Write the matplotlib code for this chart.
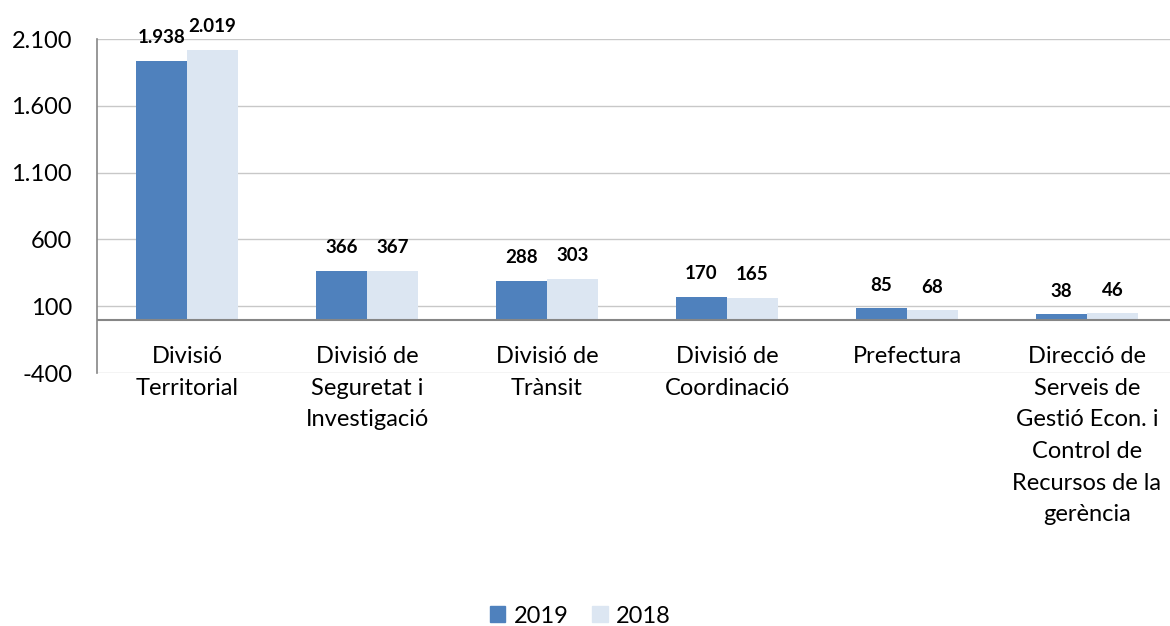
import numpy as np
import matplotlib.pyplot as plt
from matplotlib.patches import Patch

plt.rcParams['font.family'] = ['Lato', 'DejaVu Sans']

categories = ['Divisió\nTerritorial',
              'Divisió de\nSeguretat i\nInvestigació',
              'Divisió de\nTrànsit',
              'Divisió de\nCoordinació',
              'Prefectura',
              'Direcció de\nServeis de\nGestió Econ. i\nControl de\nRecursos de la\ngerència']
vals_2019 = [1938, 366, 288, 170, 85, 38]
vals_2018 = [2019, 367, 303, 165, 68, 46]
series_names = ['2019', '2018']
yticks = [-400, 100, 600, 1100, 1600, 2100]

c19 = '#4F81BD'
c18 = '#DCE6F2'


def fmt(v):
    # punt com a separador de milers
    return '{:,}'.format(v).replace(',', '.')


fig = plt.figure(figsize=(11.70, 6.26), dpi=100)
ax = fig.add_axes([97/1170, 1 - 373/626, 1080/1170, (373 - 39)/626])

x = np.arange(len(categories))
w = 0.283
b1 = ax.bar(x - w/2, vals_2019, w, color=c19, zorder=3)
b2 = ax.bar(x + w/2, vals_2018, w, color=c18, zorder=3)

for bars, vals in ((b1, vals_2019), (b2, vals_2018)):
    for r, v in zip(bars, vals):
        ax.annotate(fmt(v), (r.get_x() + r.get_width()/2, v),
                    xytext=(0, 10.5), textcoords='offset points',
                    ha='center', va='bottom', fontsize=13.5, fontweight='bold',
                    color='black')

ax.set_xlim(-0.5, len(categories) - 0.5)
ax.set_ylim(-400, 2100)
ax.set_yticks(yticks)
ax.set_yticklabels([fmt(t) for t in yticks], fontsize=17)
ax.tick_params(axis='y', length=0, pad=18)
ax.set_xticks([])
ax.grid(axis='y', color='#C8C8C8', lw=1.0, zorder=0)
ax.axhline(0, color='#868686', lw=1.5, zorder=4)

for s in ('top', 'right', 'bottom'):
    ax.spines[s].set_visible(False)
ax.spines['left'].set_color('#868686')
ax.spines['left'].set_linewidth(1.2)

for xi, lab in zip(x, categories):
    ax.annotate(lab, (xi, 0), xytext=(0, -19), textcoords='offset points',
                ha='center', va='top', fontsize=17, linespacing=1.63,
                annotation_clip=False)

handles = [Patch(color=c19), Patch(color=c18)]
fig.legend(handles, series_names, loc='lower center', bbox_to_anchor=(0.496, -0.035),
           ncol=2, frameon=False, fontsize=17, handlelength=0.65, handleheight=0.65,
           handletextpad=0.35, columnspacing=1.0)

fig.savefig('out.png', dpi=100)
